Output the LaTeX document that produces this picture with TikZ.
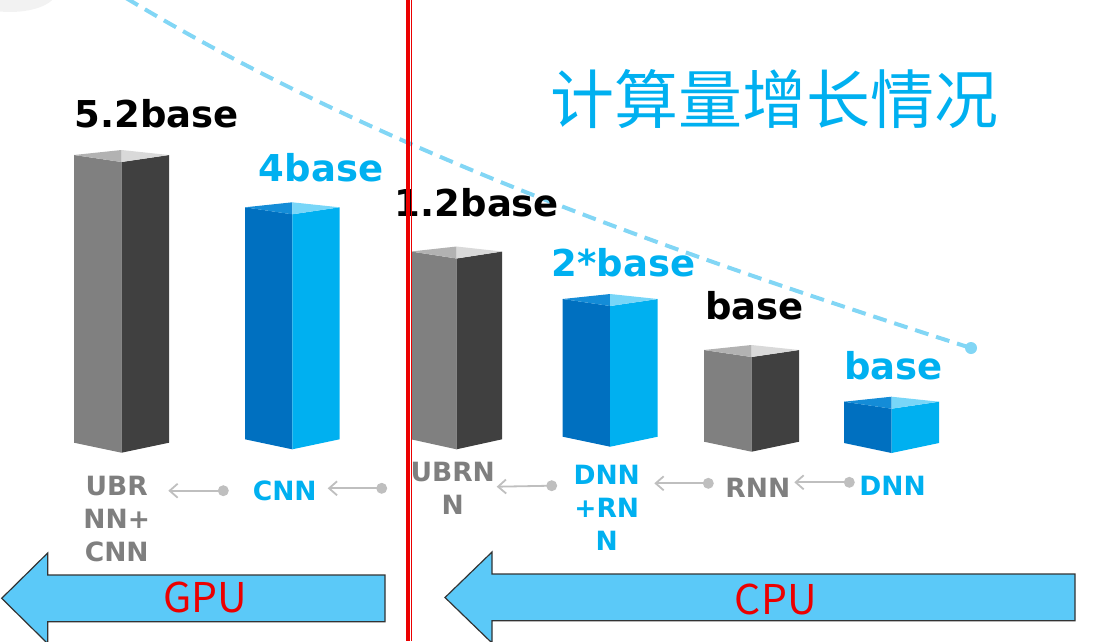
\documentclass[tikz,border=0pt]{standalone}
\usepackage{fontspec}
\setmainfont{DejaVu Sans}
\newfontfamily\cjkfont{Noto Sans CJK SC}
\usetikzlibrary{arrows.meta,positioning}

% bar faces: g = gray, b = blue
\definecolor{gl}{RGB}{128,128,128}
\definecolor{gr}{RGB}{64,64,64}
\definecolor{gtl}{RGB}{178,178,178}
\definecolor{gtr}{RGB}{217,217,217}
\definecolor{bl}{RGB}{0,112,192}
\definecolor{br}{RGB}{0,176,240}
\definecolor{btl}{RGB}{20,140,215}
\definecolor{btr}{RGB}{120,214,248}
\definecolor{labgray}{RGB}{127,127,127}
\definecolor{labblue}{RGB}{0,176,240}
\definecolor{arrgray}{RGB}{191,191,191}
\definecolor{trend}{RGB}{130,214,245}
\definecolor{shaft}{RGB}{91,201,248}
\definecolor{hotred}{RGB}{235,0,0}

% scheme, left x, right x, top y, bottom y
\newcommand{\cuboid}[5]{%
  \pgfmathsetmacro{\midx}{(#2+#3)/2}
  \fill[#1l] (#2,#4) -- (\midx,#4+7) -- (\midx,#5+10) -- (#2,#5) -- cycle;
  \fill[#1r] (\midx,#4+7) -- (#3,#4) -- (#3,#5) -- (\midx,#5+10) -- cycle;
  \fill[#1tl] (#2,#4) -- (\midx,#4-5) -- (\midx,#4+7) -- cycle;
  \fill[#1tr] (\midx,#4-5) -- (#3,#4) -- (\midx,#4+7) -- cycle;
}

\begin{document}
\begin{tikzpicture}[x=1pt,y=-1pt,
  valtext/.style={font=\fontsize{37}{44}\selectfont\bfseries,inner sep=0pt,anchor=base},
  netname/.style={font=\fontsize{26.5}{33}\selectfont\bfseries,inner sep=0pt,anchor=base,align=center},
  linkdot/.style={circle,fill=arrgray,inner sep=0pt,minimum size=11pt},
  linkarrow/.style={-{Straight Barb[length=8pt,width=14pt]},arrgray,line width=1.8pt},
  bigarrow/.style={fill=shaft,draw=black!80,line width=1.2pt},
  cputext/.style={font=\cjkfont\fontsize{41}{48}\selectfont,text=hotred,anchor=base,inner sep=0pt}]

  \clip (0,0) rectangle (1099,641);
  \fill[black!5] (10,-8) ellipse [x radius=46pt,y radius=20pt];

  % trend line
  \node[circle,fill=trend,inner sep=0pt,minimum size=12pt] (tend) at (971,348) {};
  \draw[trend,line width=4pt,dash pattern=on 14pt off 8pt]
    (126,-2) .. controls (378,150) and (671,252) .. (tend.center);

  \node[font=\cjkfont\fontsize{64}{70}\selectfont,text=labblue] (title) at (774.5,99) {计算量增长情况};

  \cuboid{g}{74}{169}{155}{442.7}
  \cuboid{b}{245}{339.5}{207.3}{439.3}
  \cuboid{g}{411}{502}{251.5}{439.3}
  \cuboid{b}{562.7}{657.7}{299}{436.7}
  \cuboid{g}{704}{799}{350}{441.7}
  \cuboid{b}{844}{939}{401.7}{443}

  \node[valtext] (v1) at (157,127.7) {5.2base};
  \node[valtext,text=labblue] (v2) at (321,181.7) {4base};
  \node[valtext] (v3) at (477,216.7) {1.2base};
  \node[valtext,text=labblue] (v4) at (623.4,276.7) {2*base};
  \node[valtext] (v5) at (754.5,319.3) {base};
  \node[valtext,text=labblue] (v6) at (893.4,379) {base};

  % names: base is the last line
  \node[netname,text=labgray] (n1) at (116.7,561.7) {UBR\\NN+\\CNN};
  \node[netname,text=labblue] (n2) at (284.7,500.7) {CNN};
  \node[netname,text=labgray] (n3) at (452.7,514.3) {UBRN\\N};
  \node[netname,text=labblue] (n4) at (606.7,550.7) {DNN\\+RN\\N};
  \node[netname,text=labgray] (n5) at (757.8,497.7) {RNN};
  \node[netname,text=labblue] (n6) at (892.5,495) {DNN};

  \node[linkdot] (d1) at (223.3,490.7) {};
  \node[linkdot] (d2) at (381.7,488.3) {};
  \node[linkdot] (d3) at (551.7,485.7) {};
  \node[linkdot] (d4) at (708.3,483.3) {};
  \node[linkdot] (d5) at (849.3,482.3) {};
  \coordinate (t1) at (168.3,490.7);
  \coordinate (t2) at (327.7,488.3);
  \coordinate (t3) at (496.7,486.7);
  \coordinate (t4) at (654.3,483.3);
  \coordinate (t5) at (794.3,482.3);
  \foreach \i in {1,...,5}
    \draw[linkarrow] (d\i.center) -- (t\i);

  % GPU and CPU arrows
  \draw[bigarrow] (1.7,598.3) -- (47.7,553) -- (47.7,575) -- (385,575)
    -- (385,621.7) -- (47.7,621.7) -- (47.7,643.6) -- cycle;
  \node[cputext] (gpu) at (205,612.7) {GPU};
  \draw[bigarrow] (445,597.5) -- (492,552) -- (492,574) -- (1075,574)
    -- (1075,620.7) -- (492,620.7) -- (492,643) -- cycle;
  \node[cputext] (cpu) at (775.8,614) {CPU};

  \draw[hotred,line width=4pt] (407.5,0) -- (407.5,641);
  \draw[hotred,line width=1.5pt] (411.5,0) -- (411.5,641);
\end{tikzpicture}
\end{document}
